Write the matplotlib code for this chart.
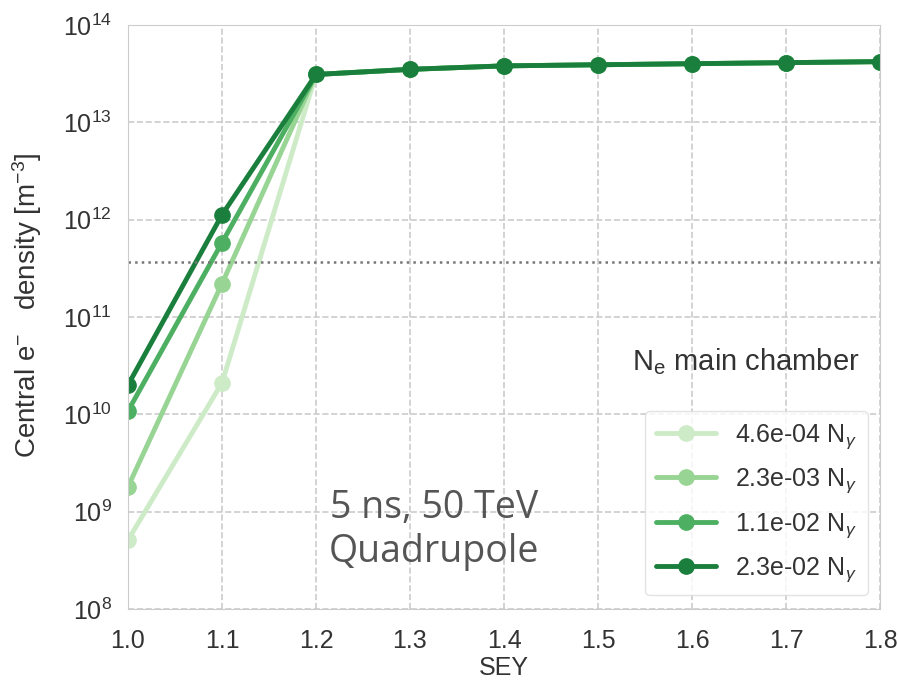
import numpy as np
import matplotlib
matplotlib.use('Agg')
from matplotlib import pyplot as plt
import seaborn as sns

# SEY scan
sey = [1.0, 1.1, 1.2, 1.3, 1.4, 1.5, 1.6, 1.7, 1.8]

# central e- density for each photoemission level
dens_46e4 = [5.1e8, 2.1e10, 3.1e13, 3.5e13, 3.8e13, 3.9e13, 4.0e13, 4.1e13, 4.2e13]
dens_23e3 = [1.8e9, 2.2e11, 3.1e13, 3.5e13, 3.8e13, 3.9e13, 4.0e13, 4.1e13, 4.2e13]
dens_11e2 = [1.08e10, 5.8e11, 3.1e13, 3.5e13, 3.8e13, 3.9e13, 4.0e13, 4.1e13, 4.2e13]
dens_23e2 = [2.0e10, 1.12e12, 3.1e13, 3.5e13, 3.8e13, 3.9e13, 4.0e13, 4.1e13, 4.2e13]

labels = ['4.6e-04 N$_\\gamma$', '2.3e-03 N$_\\gamma$', '1.1e-02 N$_\\gamma$', '2.3e-02 N$_\\gamma$']
colors = ['#cdebc7', '#98d594', '#4daf62', '#1a7f3c']

threshold = 3.7e11

sns.set_style('whitegrid', {'grid.linestyle': '--', 'axes.edgecolor': '#cccccc'})
plt.rcParams['font.family'] = ['Liberation Sans', 'DejaVu Sans']
plt.rcParams['mathtext.fontset'] = 'custom'
plt.rcParams['mathtext.rm'] = 'Liberation Sans'
plt.rcParams['mathtext.it'] = 'Liberation Sans:italic'

fig = plt.figure(figsize=(8.98, 6.84), dpi=100)
ax = fig.add_axes([0.1425, 0.1096, 0.8375, 0.8539])

series = [dens_46e4, dens_23e3, dens_11e2, dens_23e2]
for dens, lab, col in zip(series, labels, colors):
    ax.plot(sey, dens, '-o', color=col, lw=3.5, ms=11, label=lab)

ax.axhline(threshold, color='#777777', ls=':', lw=1.8)

ax.set_yscale('log')
ax.set_ylim(1e8, 1e14)
ax.set_xlim(1.0, 1.8)
ax.set_xticks(sey)
ax.set_xticklabels(['%.1f' % v for v in sey])
ax.tick_params(labelsize=18, colors='#333333')
ax.tick_params(axis='x', pad=11)
ax.tick_params(axis='y', pad=8)
ax.grid(True, color='#cccccc', ls='--', lw=1.2)
ax.set_xlabel('SEY', fontsize=18, color='#333333', labelpad=2)
ax.set_ylabel('Central e$^{-}$   density [m$^{-3}$]', fontsize=20, color='#333333')
ax.yaxis.set_label_coords(-0.112, 0.52)

leg = ax.legend(loc='lower right', bbox_to_anchor=(0.984, 0.024), fontsize=18,
                frameon=True, handlelength=2.4, borderpad=0.45, labelspacing=0.62,
                handletextpad=0.75, borderaxespad=0)
leg.get_frame().set_edgecolor('#dddddd')
leg.get_frame().set_linewidth(1.0)
for t in leg.get_texts():
    t.set_color('#333333')

fig.text(746 / 898, 1 - 362 / 684, 'N$_\\mathrm{e}$ main chamber', fontsize=21, color='#333333',
         ha='center', va='center')

ax.text(0.407, 0.135, '5 ns, 50 TeV\nQuadrupole', transform=ax.transAxes, fontsize=27,
        color='#555555', ha='center', va='center', family='Open Sans', linespacing=1.2)

fig.savefig('out.png', dpi=100)
